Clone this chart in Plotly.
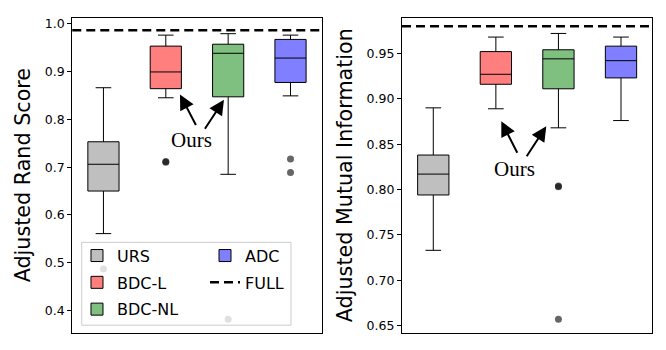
import plotly.graph_objects as go
from plotly.subplots import make_subplots

# #0. Data

methods = ["URS", "BDC-L", "BDC-NL", "ADC"]
fill_colors = ["rgba(128,128,128,0.5)", "rgba(255,0,0,0.5)",
               "rgba(0,128,0,0.5)", "rgba(0,0,255,0.5)"]

# Adjusted Rand Score (left panel)
ars_lower = [0.561, 0.845, 0.685, 0.849]
ars_q1 = [0.650, 0.864, 0.847, 0.877]
ars_median = [0.706, 0.899, 0.938, 0.928]
ars_q3 = [0.753, 0.953, 0.957, 0.967]
ars_upper = [0.866, 0.976, 0.979, 0.976]
ars_outliers = [[0.487], [0.710, 0.712], [0.382], [0.717, 0.689]]
ars_full = 0.986

# Adjusted Mutual Information (right panel)
ami_lower = [0.733, 0.889, 0.868, 0.876]
ami_q1 = [0.794, 0.916, 0.911, 0.923]
ami_median = [0.817, 0.927, 0.944, 0.942]
ami_q3 = [0.838, 0.952, 0.954, 0.958]
ami_upper = [0.890, 0.968, 0.972, 0.968]
ami_outliers = [[], [], [0.804, 0.803, 0.657], []]
ami_full = 0.980

# #1. Figure

fig = make_subplots(rows=1, cols=2)

panels = [
    (1, ars_lower, ars_q1, ars_median, ars_q3, ars_upper, ars_outliers, ars_full),
    (2, ami_lower, ami_q1, ami_median, ami_q3, ami_upper, ami_outliers, ami_full),
]

legend_of = {"URS": "legend", "BDC-L": "legend", "BDC-NL": "legend", "ADC": "legend2"}

for col, lo, q1, med, q3, up, outl, full in panels:
    for i, m in enumerate(methods):
        fig.add_trace(go.Box(
            x=[m], q1=[q1[i]], median=[med[i]], q3=[q3[i]],
            lowerfence=[lo[i]], upperfence=[up[i]],
            name=m, width=0.5, whiskerwidth=0.5,
            fillcolor=fill_colors[i], line=dict(color="black", width=1),
            boxpoints=False, showlegend=(col == 1),
            legend=legend_of[m], legendgroup=m,
        ), row=1, col=col)
        if outl[i]:
            fig.add_trace(go.Scatter(
                x=[m] * len(outl[i]), y=outl[i], mode="markers",
                marker=dict(size=7, color="rgba(0,0,0,0.6)"),
                showlegend=False, hoverinfo="skip",
            ), row=1, col=col)
    fig.add_hline(y=full, line=dict(color="black", width=2.5, dash="9px,5px"),
                  row=1, col=col)

# legend entry for the dashed FULL line
fig.add_trace(go.Scatter(
    x=[None], y=[None], mode="lines", name="FULL",
    line=dict(color="black", width=2.5, dash="9px,5px"),
    legend="legend2", legendgroup="FULL",
), row=1, col=1)

axis_common = dict(showline=True, mirror=True, linecolor="black", linewidth=1.2)

fig.update_xaxes(showticklabels=False, ticks="", showgrid=False,
                 range=[-0.5, 3.5], type="category", **axis_common)
fig.update_xaxes(domain=[0.0965, 0.4710], row=1, col=1)
fig.update_xaxes(domain=[0.5916, 0.9674], row=1, col=2)

fig.update_yaxes(showgrid=False, zeroline=False, ticks="outside", ticklen=4,
                 tickcolor="black", tickfont=dict(size=12.5, color="black"),
                 domain=[0.0729, 0.978], title_font=dict(size=20.7, color="black"),
                 title_standoff=8, **axis_common)
fig.update_yaxes(range=[0.354, 1.0125], dtick=0.1, tick0=0.4, tickformat=".1f",
                 title_text="Adjusted Rand Score", row=1, col=1)
fig.update_yaxes(range=[0.6423, 0.9894], dtick=0.05, tick0=0.65, tickformat=".2f",
                 title_text="Adjusted Mutual Information", row=1, col=2)

# "Ours" labels with arrows
ours_font = dict(family="Liberation Serif", size=21, color="black")
for xref, yref, text_xy, arrows in [
    ("x", "y", (1.42, 0.756), [((1.227, 0.852), (1.495, 0.785)),
                               ((1.933, 0.841), (1.612, 0.777))]),
    ("x2", "y2", (1.29, 0.8227), [((1.087, 0.8753), (1.354, 0.8388)),
                                  ((1.806, 0.8698), (1.477, 0.8351))]),
]:
    fig.add_annotation(x=text_xy[0], y=text_xy[1], xref=xref, yref=yref,
                       text="Ours", showarrow=False, font=ours_font)
    for head, tail in arrows:
        fig.add_annotation(x=head[0], y=head[1], ax=tail[0], ay=tail[1],
                           xref=xref, yref=yref, axref=xref, ayref=yref,
                           text="", showarrow=True, arrowhead=2, arrowsize=1.5,
                           arrowwidth=2, arrowcolor="black", standoff=0)

# legend frame
fig.add_shape(type="rect", xref="paper", yref="paper",
              x0=0.1107, x1=0.4249, y0=0.0943, y1=0.3323,
              fillcolor="rgba(255,255,255,0.8)", line=dict(color="#cccccc", width=1),
              layer="above")

legend_common = dict(bgcolor="rgba(0,0,0,0)", borderwidth=0, orientation="v",
                     font=dict(size=16, color="black"), tracegroupgap=3,
                     xanchor="left", yanchor="top", itemwidth=30)

fig.update_layout(
    width=666, height=350,
    margin=dict(l=0, r=0, t=0, b=0),
    plot_bgcolor="white", paper_bgcolor="white",
    font=dict(family="DejaVu Sans", color="black"),
    boxmode="overlay",
    legend=dict(x=0.1036, y=0.343, **legend_common),
    legend2=dict(x=0.2958, y=0.343, **legend_common),
)

fig.write_html("out.html")
